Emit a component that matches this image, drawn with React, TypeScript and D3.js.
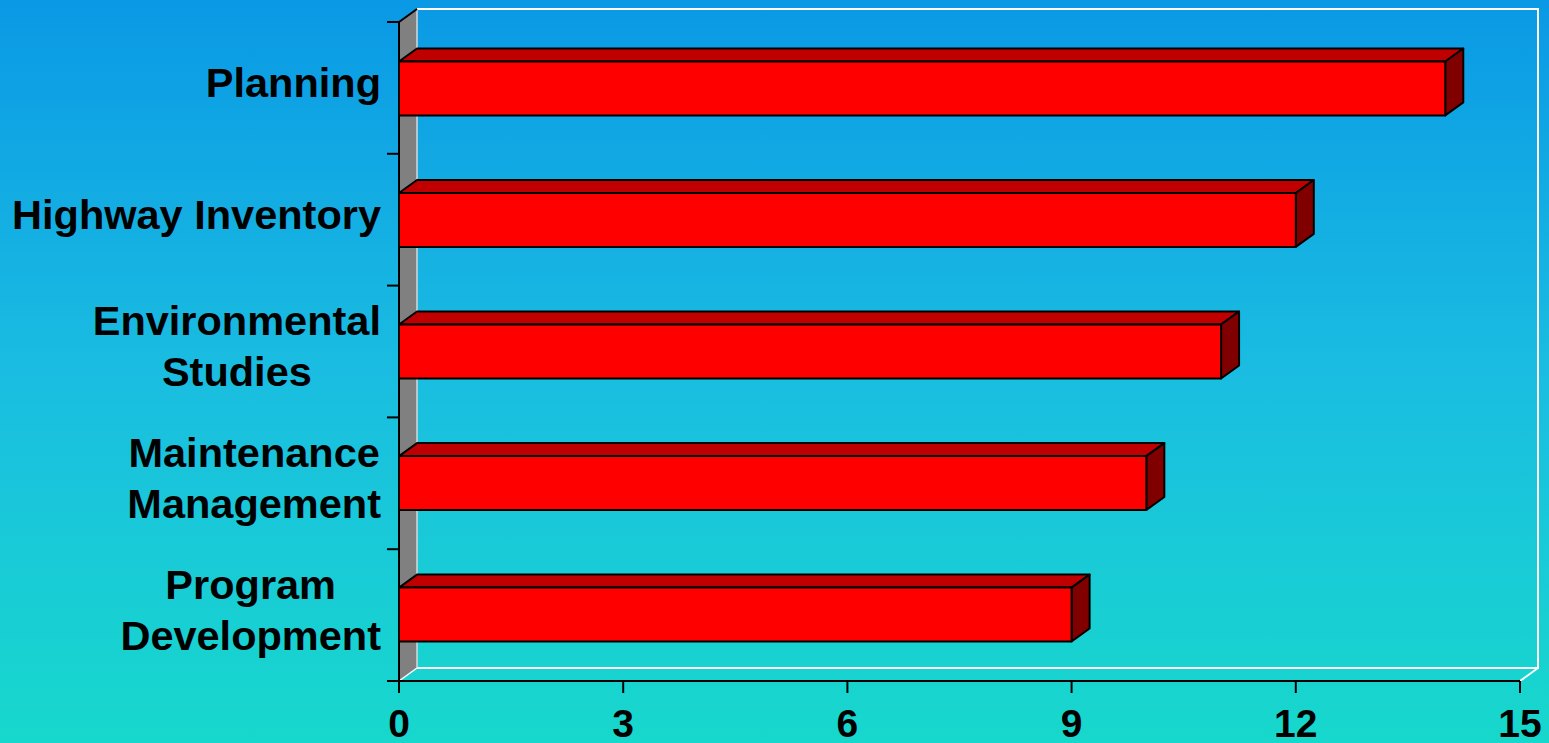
import React, { useEffect, useRef } from "react";
import * as d3 from "d3";

const categories: string[][] = [
  ["Planning"],
  ["Highway Inventory"],
  ["Environmental", "Studies"],
  ["Maintenance", "Management"],
  ["Program", "Development"],
];
const values: number[] = [14, 12, 11, 10, 9];
const xTicks: number[] = [0, 3, 6, 9, 12, 15];

const W = 1549;
const H = 743;

export default function App() {
  const ref = useRef<SVGSVGElement | null>(null);

  useEffect(() => {
    const svg = d3.select(ref.current);
    svg.selectAll("*").remove();

    const left = 399, right = 1520, top = 22, bottom = 681;
    const dx = 18, dy = -13;
    const x = d3.scaleLinear().domain([0, 15]).range([left, right]);
    const y = d3
      .scaleBand<number>()
      .domain(d3.range(categories.length))
      .range([top, bottom])
      .paddingInner(0.59)
      .paddingOuter(0.3);
    const band = (bottom - top) / categories.length;

    const defs = svg.append("defs");
    const grad = defs
      .append("linearGradient")
      .attr("id", "bg")
      .attr("x1", 0)
      .attr("y1", 0)
      .attr("x2", 0)
      .attr("y2", 1);
    grad.append("stop").attr("offset", "0%").attr("stop-color", "#0A99E5");
    grad.append("stop").attr("offset", "50%").attr("stop-color", "#1ABDE1");
    grad.append("stop").attr("offset", "100%").attr("stop-color", "#17D8CC");

    svg.append("rect").attr("width", W).attr("height", H).attr("fill", "url(#bg)");

    // back wall lines (white)
    const bw = svg.append("g").attr("fill", "none").attr("stroke", "#FFFFFF").attr("stroke-width", 2);
    bw.append("path").attr(
      "d",
      `M${left + dx},${top + dy}H${right + dx}V${bottom + dy}H${left + dx}`
    );
    bw.append("path").attr("d", `M${right},${bottom}L${right + dx},${bottom + dy}`);

    // left side wall (gray)
    svg
      .append("path")
      .attr(
        "d",
        `M${left},${top}L${left + dx},${top + dy}V${bottom + dy}L${left},${bottom}Z`
      )
      .attr("fill", "#808080")
      .attr("stroke", "none");
    svg
      .append("path")
      .attr("d", `M${left + dx},${top + dy}V${bottom + dy}`)
      .attr("stroke", "#D8D8D8")
      .attr("stroke-width", 1.5);
    svg
      .append("path")
      .attr("d", `M${left},${bottom}L${left + dx},${bottom + dy}`)
      .attr("stroke", "#FFFFFF")
      .attr("stroke-width", 1.5);
    svg
      .append("path")
      .attr("d", `M${left},${top}L${left + dx},${top + dy}`)
      .attr("stroke", "#000")
      .attr("stroke-width", 2);

    // bars
    const bars = svg.append("g").attr("stroke", "#000").attr("stroke-width", 2).attr("stroke-linejoin", "round");
    values.forEach((v, i) => {
      const y0 = y(i)!;
      const h = y.bandwidth();
      const x0 = x(0);
      const x1 = x(v);
      const g = bars.append("g");
      g.append("path")
        .attr("d", `M${x0},${y0}L${x0 + dx},${y0 + dy}H${x1 + dx}L${x1},${y0}Z`)
        .attr("fill", "#C00000");
      g.append("path")
        .attr(
          "d",
          `M${x1},${y0}L${x1 + dx},${y0 + dy}V${y0 + h + dy}L${x1},${y0 + h}Z`
        )
        .attr("fill", "#800000");
      g.append("rect")
        .attr("x", x0)
        .attr("y", y0)
        .attr("width", x1 - x0)
        .attr("height", h)
        .attr("fill", "#FF0000");
    });

    // axes
    const ax = svg.append("g").attr("stroke", "#000").attr("stroke-width", 2).attr("fill", "none");
    ax.append("path").attr("d", `M${left},${top}V${bottom}`);
    ax.append("path").attr("d", `M${left - 12},${bottom}H${right}`);
    d3.range(categories.length + 1).forEach((k) => {
      const yy = top + k * band;
      ax.append("path").attr("d", `M${left - 12},${yy}H${left}`);
    });
    xTicks.forEach((t) => {
      ax.append("path").attr("d", `M${x(t)},${bottom}V${bottom + 12}`);
    });

    const font = "'Liberation Sans', Arial, sans-serif";
    svg
      .append("g")
      .selectAll("text")
      .data(xTicks)
      .join("text")
      .attr("x", (d) => x(d))
      .attr("y", 737)
      .attr("text-anchor", "middle")
      .attr("font-family", font)
      .attr("font-weight", "bold")
      .attr("font-size", 39)
      .attr("fill", "#000")
      .text((d) => String(d));

    // category labels
    const labelRight = 381;
    const lineH = 51;
    categories.forEach((lines, i) => {
      const cy = top + i * band + band / 2 - 6;
      const g = svg.append("g");
      const texts = lines.map((ln, j) =>
        g
          .append("text")
          .attr("font-family", font)
          .attr("font-weight", "bold")
          .attr("font-size", 41.5)
          .attr("fill", "#000")
          .attr("text-anchor", "middle")
          .attr("y", cy + (j - (lines.length - 1) / 2) * lineH + 15)
          .text(ln)
      );
      const maxW = d3.max(texts, (t) => (t.node() as SVGTextElement).getComputedTextLength()) || 0;
      texts.forEach((t) => t.attr("x", labelRight - maxW / 2));
    });
  }, []);

  return (
    <svg
      ref={ref}
      width={W}
      height={H}
      style={{ position: "absolute", left: 0, top: 0, display: "block" }}
    />
  );
}
